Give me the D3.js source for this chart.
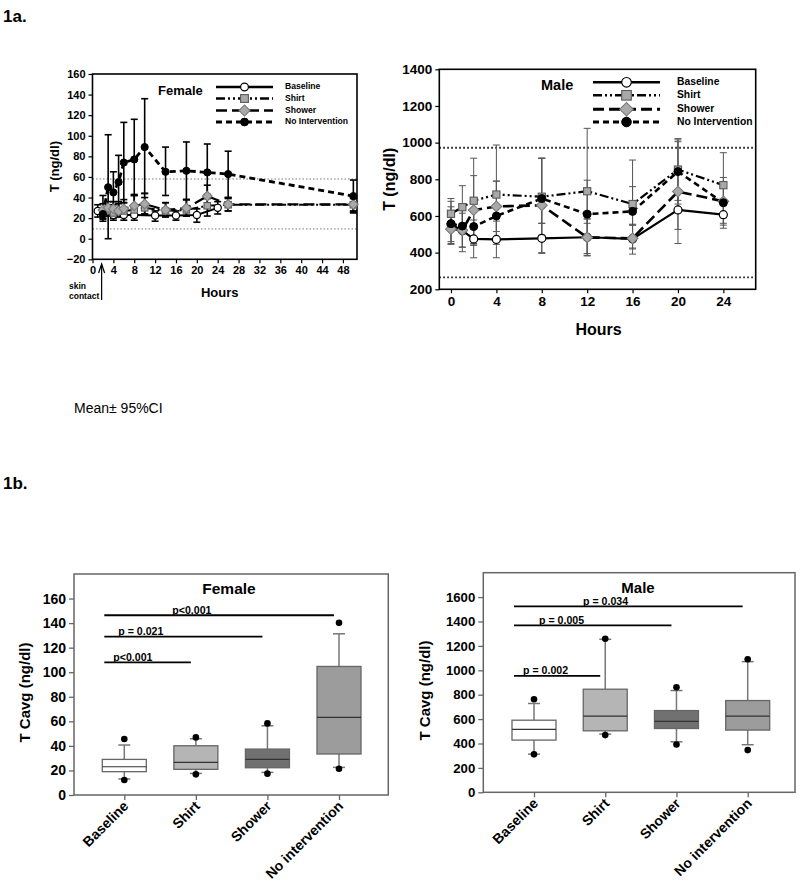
<!DOCTYPE html>
<html><head><meta charset="utf-8">
<script src="https://cdn.jsdelivr.net/npm/d3@7"></script>
<style>
body{margin:0;background:#fff}
svg{display:block}
text{font-family:"Liberation Sans",Arial,sans-serif}
</style>
</head><body>
<svg id="c" width="800" height="883"></svg>
<script>
// ---------------- DATA ----------------
const seriesNames = ["Baseline", "Shirt", "Shower", "No Intervention"];
// time course rows: [hour, mean, lower95, upper95]
const femaleBaseline = [[1,27,21,33],[2,24,19,30],[4,23,18,28],[6,23,18,28],[8,23,18,28],[12,22.5,17,27],[16,22.5,18,27],[20,23,16,29],[24,30,24,36]];
const femaleShirt    = [[2,26,20,42],[3,27,22,33],[4,25,20,33],[5,27,22,36],[6,27,21,35],[8,28,21,42],[10,30,24,40],[14,27,21,35],[18,28,22,38],[22,32,22,43],[26,33,27,39],[50,33,27,39]];
const femaleShower   = [[2,28,22,34],[3,30,24,36],[4,29,23,36],[5,27,21,34],[6,29,22,38],[8,32,22,43],[10,33.7,24,44],[14,28,22,35],[18,29.8,22,38],[22,41.4,30,52],[26,33.4,27,40],[50,33.4,25,40]];
const femaleNoInt    = [[2,24,17,30],[3,50,0,101],[4,45,25,65],[5,55,30,81],[6,74,35,113],[8,77,42,116],[10,89,44,136],[14,65,42,89],[18,66,38,94],[22,64.4,39,92],[26,62.8,40,85],[50,41.4,26,57]];
const femaleRefLines = [9.5, 58];
const femaleXTicks = [0,4,8,12,16,20,24,28,32,36,40,44,48];
const femaleYTicks = [-20,0,20,40,60,80,100,120,140,160];

const maleBaseline = [[0,555,460,650],[1,520,405,635],[2,475,372,578],[4,472,372,572],[8,478,396,560],[12,484,385,583],[16,475,392,555],[20,633,527,740],[24,607,533,680]];
const maleShirt    = [[0,612,530,695],[1,648,530,765],[2,683,450,915],[4,717,445,987],[8,705,495,915],[12,735,395,1078],[16,665,425,905],[20,853,685,1022],[24,768,590,945]];
const maleShower   = [[0,528,445,610],[1,522,430,615],[2,632,442,820],[4,652,515,790],[8,658,400,915],[12,483,382,585],[16,478,420,550],[20,733,450,1015],[24,680,550,810]];
const maleNoInt    = [[0,558,450,680],[1,545,430,660],[2,542,440,640],[4,600,470,790],[8,695,560,915],[12,610,560,795],[16,625,550,760],[20,842,665,1005],[24,672,560,785]];
const maleRefLines = [265, 972];
const maleXTicks = [0,4,8,12,16,20,24];
const maleYTicks = [200,400,600,800,1000,1200,1400];

const boxCategories = ["Baseline", "Shirt", "Shower", "No intervention"];
const femaleQ1 = [19, 20.9, 22.2, 33.4];
const femaleMedian = [23, 26.6, 29, 63.2];
const femaleQ3 = [29, 40.1, 37.4, 104.7];
const femaleWhiskLo = [13, 17.6, 18.4, 22.5];
const femaleWhiskHi = [40.7, 45.8, 56.4, 131.3];
const femaleOutLo = [12.2, 16.8, 17.4, 21.4];
const femaleOutHi = [45.6, 46.9, 58.3, 140.2];
const femaleBoxTicks = [0,20,40,60,80,100,120,140,160];
const femalePLabels = ["p<0.001", "p = 0.021", "p<0.001"];
const femalePTargets = ["Shirt", "Shower", "No intervention"];
const femalePLevels = [108, 129, 146.4];

const maleQ1 = [428, 504, 523, 510];
const maleMedian = [515, 624, 581, 624];
const maleQ3 = [591, 845, 670, 752];
const maleWhiskLo = [313, 477, 414, 390];
const maleWhiskHi = [728, 1254, 834, 1071];
const maleOutLo = [311, 469, 392, 346];
const maleOutHi = [763, 1259, 861, 1090];
const maleBoxTicks = [0,200,400,600,800,1000,1200,1400,1600];
const malePLabels = ["p = 0.002", "p = 0.005", "p = 0.034"];
const malePTargets = ["Shirt", "Shower", "No intervention"];
const malePLevels = [954, 1368, 1524];

// ---------------- STYLES ----------------
const svg = d3.select("#c");
const FONT = '"Liberation Sans",Arial,sans-serif';
const lineStyles = [
  {dash: null, marker: "open"},
  {dash: "9,3,2,3,2,3", marker: "square"},
  {dash: "11,5", marker: "diamond"},
  {dash: "6,4", marker: "filled"}
];
const boxFills = ["#ffffff", "#b5b5b5", "#717171", "#9c9c9c"];

function marker(g, type, cx, cy, s) {
  if (type === "open") {
    g.append("circle").attr("cx", cx).attr("cy", cy).attr("r", s).attr("fill", "#fff").attr("stroke", "#000").attr("stroke-width", 1.2);
  } else if (type === "filled") {
    g.append("circle").attr("cx", cx).attr("cy", cy).attr("r", s).attr("fill", "#000").attr("stroke", "#000").attr("stroke-width", 1);
  } else if (type === "square") {
    g.append("rect").attr("x", cx - s).attr("y", cy - s).attr("width", 2 * s).attr("height", 2 * s)
      .attr("fill", "#a9a9a9").attr("stroke", "#5a5a5a").attr("stroke-width", 1.1);
  } else {
    g.append("path").attr("d", d3.symbol(d3.symbolSquare, 4 * s * s)())
      .attr("transform", `translate(${cx},${cy}) rotate(45)`)
      .attr("fill", "#a9a9a9").attr("stroke", "#7a7a7a").attr("stroke-width", 1.1);
  }
}

function lineChart(cfg) {
  const g = svg.append("g");
  const x = d3.scaleLinear().domain(cfg.xDomain).range([cfg.left, cfg.right]);
  const y = d3.scaleLinear().domain(cfg.yDomain).range([cfg.bottom, cfg.top]);

  cfg.refs.forEach(v => {
    g.append("line").attr("x1", cfg.left).attr("x2", cfg.right).attr("y1", y(v)).attr("y2", y(v))
      .attr("stroke", cfg.refColor).attr("stroke-width", cfg.refWidth).attr("stroke-dasharray", cfg.refDash);
  });

  const ax = g.append("g").attr("transform", `translate(0,${cfg.bottom})`)
    .call(d3.axisBottom(x).tickValues(cfg.xTicks).tickSize(4).tickPadding(3).tickFormat(d3.format("d")));
  const ay = g.append("g").attr("transform", `translate(${cfg.left},0)`)
    .call(d3.axisLeft(y).tickValues(cfg.yTicks).tickSize(4).tickPadding(3).tickFormat(d3.format("d")));
  [ax, ay].forEach(a => {
    a.select(".domain").remove();
    a.selectAll("line").attr("stroke", "#000").attr("stroke-width", 1.2);
    a.selectAll("text").attr("font-family", FONT).attr("font-weight", "bold").attr("font-size", cfg.tickFont).attr("fill", "#000");
  });
  g.append("rect").attr("x", cfg.left).attr("y", cfg.top).attr("width", cfg.right - cfg.left).attr("height", cfg.bottom - cfg.top)
    .attr("fill", "none").attr("stroke", "#000").attr("stroke-width", cfg.frameWidth);

  cfg.series.forEach(s => {
    s.data.forEach(d => {
      const xx = x(d[0]);
      g.append("line").attr("x1", xx).attr("x2", xx).attr("y1", y(d[2])).attr("y2", y(d[3]))
        .attr("stroke", cfg.errColor).attr("stroke-width", cfg.errWidth);
      [d[2], d[3]].forEach(v => g.append("line").attr("x1", xx - cfg.cap).attr("x2", xx + cfg.cap).attr("y1", y(v)).attr("y2", y(v))
        .attr("stroke", cfg.errColor).attr("stroke-width", cfg.errWidth));
    });
  });
  const lineGen = d3.line().x(d => x(d[0])).y(d => y(d[1]));
  cfg.series.forEach((s, i) => {
    g.append("path").attr("d", lineGen(s.data)).attr("fill", "none").attr("stroke", "#000")
      .attr("stroke-width", cfg.lineWidths[i]).attr("stroke-dasharray", lineStyles[i].dash);
  });
  cfg.series.forEach((s, i) => {
    const m = lineStyles[i].marker;
    s.data.forEach(d => marker(g, m, x(d[0]), y(d[1]), m === "diamond" ? cfg.msize * 0.95 : (m === "square" ? cfg.msize * 0.9 : cfg.msize)));
  });

  g.append("text").attr("x", cfg.titleX).attr("y", cfg.titleY).attr("font-weight", "bold").attr("font-size", cfg.titleFont)
    .attr("dominant-baseline", "middle").text(cfg.title);
  cfg.legendRows.forEach((ry, i) => {
    g.append("line").attr("x1", cfg.legX1).attr("x2", cfg.legX2).attr("y1", ry).attr("y2", ry)
      .attr("stroke", "#000").attr("stroke-width", cfg.lineWidths[i] + 0.4).attr("stroke-dasharray", lineStyles[i].dash);
    marker(g, lineStyles[i].marker, (cfg.legX1 + cfg.legX2) / 2, ry, cfg.legMsize);
    g.append("text").attr("x", cfg.legLabelX).attr("y", ry).attr("dominant-baseline", "middle")
      .attr("font-weight", "bold").attr("font-size", cfg.legFont).text(seriesNames[i]);
  });

  g.append("text").attr("x", (cfg.left + cfg.right) / 2 + cfg.xTitleShift).attr("y", cfg.xTitleY).attr("text-anchor", "middle")
    .attr("font-weight", "bold").attr("font-size", cfg.axisFont).text("Hours");
  g.append("text").attr("transform", `translate(${cfg.yTitleX},${(cfg.top + cfg.bottom) / 2}) rotate(-90)`)
    .attr("text-anchor", "middle").attr("font-weight", "bold").attr("font-size", cfg.axisFont).text("T (ng/dl)");
  return {g, x, y};
}

// ---------- Figure labels ----------
svg.append("text").attr("x", 3).attr("y", 22).attr("font-weight", "bold").attr("font-size", 17).text("1a.");
svg.append("text").attr("x", 3).attr("y", 489).attr("font-weight", "bold").attr("font-size", 17).text("1b.");
svg.append("text").attr("x", 74).attr("y", 413).attr("font-size", 14).text("Mean\u00b1 95%CI");

// ---------- 1a Female ----------
const fem = lineChart({
  left: 92.5, right: 357, top: 74, bottom: 259.3,
  xDomain: [0, 50.7], yDomain: [-20, 160], xTicks: femaleXTicks, yTicks: femaleYTicks,
  refs: femaleRefLines, refColor: "#777", refWidth: 1, refDash: "1.5,2",
  tickFont: 11, frameWidth: 1.6,
  series: [{data: femaleBaseline}, {data: femaleShirt}, {data: femaleShower}, {data: femaleNoInt}],
  lineWidths: [2, 2, 2.2, 2.8],
  errColor: "#000", errWidth: 1.6, cap: 3.5, msize: 3.6, legMsize: 3.9,
  title: "Female", titleX: 158, titleY: 92, titleFont: 13,
  legendRows: [87, 98.5, 110.5, 122], legX1: 216, legX2: 273, legLabelX: 285, legFont: 8.6,
  xTitleShift: -5, xTitleY: 297, yTitleX: 59, axisFont: 13
});
{
  const ax = fem.x(1.75);
  const g = fem.g;
  g.append("line").attr("x1", ax).attr("x2", ax).attr("y1", 300).attr("y2", 264).attr("stroke", "#000").attr("stroke-width", 1.2);
  g.append("path").attr("d", `M${ax - 3},${273} L${ax},${264} L${ax + 3},${273}`).attr("fill", "none").attr("stroke", "#000").attr("stroke-width", 1.2);
  g.append("text").attr("x", 69).attr("y", 288.5).attr("font-size", 8.5).attr("font-weight", "bold").text("skin");
  g.append("text").attr("x", 69).attr("y", 299).attr("font-size", 8.5).attr("font-weight", "bold").text("contact");
}

// ---------- 1a Male ----------
lineChart({
  left: 439.3, right: 755.7, top: 69.3, bottom: 289.3,
  xDomain: [-1.03, 26.85], yDomain: [200, 1400], xTicks: maleXTicks, yTicks: maleYTicks,
  refs: maleRefLines, refColor: "#000", refWidth: 1.8, refDash: "1.5,2.5",
  tickFont: 13.5, frameWidth: 1.6,
  series: [{data: maleBaseline}, {data: maleShirt}, {data: maleShower}, {data: maleNoInt}],
  lineWidths: [2.2, 2.2, 2.6, 2.6],
  errColor: "#555", errWidth: 1, cap: 3.5, msize: 4, legMsize: 4.8,
  title: "Male", titleX: 541, titleY: 86.5, titleFont: 14.5,
  legendRows: [82.3, 95.3, 109.3, 122], legX1: 593, legX2: 660, legLabelX: 677, legFont: 10.3,
  xTitleShift: 1, xTitleY: 335, yTitleX: 395, axisFont: 16
});

// ---------- 1b box plots ----------
function boxChart(cfg) {
  const g = svg.append("g");
  const x = d3.scalePoint().domain(boxCategories).range([cfg.left + cfg.padL, cfg.right - cfg.padR]);
  const y = d3.scaleLinear().domain(cfg.yDomain).range([cfg.bottom, cfg.top]);
  g.append("rect").attr("x", cfg.left).attr("y", cfg.top).attr("width", cfg.right - cfg.left).attr("height", cfg.bottom - cfg.top)
    .attr("fill", "none").attr("stroke", "#666").attr("stroke-width", 1.5);
  const ay = g.append("g").attr("transform", `translate(${cfg.left},0)`)
    .call(d3.axisLeft(y).tickValues(cfg.yTicks).tickSize(5).tickPadding(3).tickFormat(d3.format("d")));
  const ax = g.append("g").attr("transform", `translate(0,${cfg.bottom})`)
    .call(d3.axisBottom(x).tickSize(5).tickFormat(""));
  [ax, ay].forEach(a => {
    a.select(".domain").remove();
    a.selectAll("line").attr("stroke", "#666").attr("stroke-width", 1.3);
  });
  ay.selectAll("text").attr("font-family", FONT).attr("font-weight", "bold").attr("font-size", cfg.tickFont).attr("fill", "#000");
  boxCategories.forEach((c) => {
    g.append("text").attr("transform", `translate(${x(c) + 5},${cfg.bottom + 12}) rotate(-45)`)
      .attr("text-anchor", "end").attr("font-weight", "bold").attr("font-size", 14).text(c);
  });

  const bw = 44, cw = 6;
  boxCategories.forEach((c, i) => {
    const cx = x(c);
    [[cfg.q3[i], cfg.wHi[i]], [cfg.q1[i], cfg.wLo[i]]].forEach(([a, b]) => {
      g.append("line").attr("x1", cx).attr("x2", cx).attr("y1", y(a)).attr("y2", y(b)).attr("stroke", "#777").attr("stroke-width", 1.5);
      g.append("line").attr("x1", cx - cw).attr("x2", cx + cw).attr("y1", y(b)).attr("y2", y(b)).attr("stroke", "#777").attr("stroke-width", 1.5);
    });
    g.append("rect").attr("x", cx - bw / 2).attr("y", y(cfg.q3[i])).attr("width", bw).attr("height", y(cfg.q1[i]) - y(cfg.q3[i]))
      .attr("fill", boxFills[i]).attr("stroke", "#666").attr("stroke-width", 1.3);
    g.append("line").attr("x1", cx - bw / 2).attr("x2", cx + bw / 2).attr("y1", y(cfg.med[i])).attr("y2", y(cfg.med[i]))
      .attr("stroke", "#333").attr("stroke-width", 1.2);
    [cfg.oLo[i], cfg.oHi[i]].forEach(v => g.append("circle").attr("cx", cx).attr("cy", y(v)).attr("r", 3.3).attr("fill", "#000"));
  });

  cfg.pLabels.forEach((lab, i) => {
    const x1 = x("Baseline") - 20, x2 = x(cfg.pTargets[i]) - 5, yy = y(cfg.pLevels[i]);
    g.append("line").attr("x1", x1).attr("x2", x2).attr("y1", yy).attr("y2", yy).attr("stroke", "#000").attr("stroke-width", 1.8);
    g.append("text").attr("x", x1 + cfg.textOffsets[i]).attr("y", yy - 1.5).attr("font-weight", "bold").attr("font-size", 10.6).text(lab);
  });

  g.append("text").attr("x", cfg.titleX).attr("y", cfg.top + 20).attr("text-anchor", "middle").attr("font-weight", "bold")
    .attr("font-size", cfg.titleFont).text(cfg.title);
  g.append("text").attr("transform", `translate(${cfg.yTitleX},${(cfg.top + cfg.bottom) / 2 + 8}) rotate(-90)`)
    .attr("text-anchor", "middle").attr("font-weight", "bold").attr("font-size", 15).text("T Cavg (ng/dl)");
}

boxChart({
  left: 74, right: 388.3, top: 574, bottom: 795, padL: 50.3, padR: 49.3,
  yDomain: [0, 180], yTicks: femaleBoxTicks, tickFont: 14,
  q1: femaleQ1, med: femaleMedian, q3: femaleQ3, wLo: femaleWhiskLo, wHi: femaleWhiskHi, oLo: femaleOutLo, oHi: femaleOutHi,
  pLabels: femalePLabels, pTargets: femalePTargets, pLevels: femalePLevels, textOffsets: [9, 14, 68],
  title: "Female", titleX: 229, titleFont: 15.5, yTitleX: 30
});
boxChart({
  left: 483.3, right: 795, top: 572.7, bottom: 792.3, padL: 50.7, padR: 47.3,
  yDomain: [0, 1800], yTicks: maleBoxTicks, tickFont: 13.2,
  q1: maleQ1, med: maleMedian, q3: maleQ3, wLo: maleWhiskLo, wHi: maleWhiskHi, oLo: maleOutLo, oHi: maleOutHi,
  pLabels: malePLabels, pTargets: malePTargets, pLevels: malePLevels, textOffsets: [9, 25, 69],
  title: "Male", titleX: 638, titleFont: 15, yTitleX: 430
});
</script>
</body></html>
